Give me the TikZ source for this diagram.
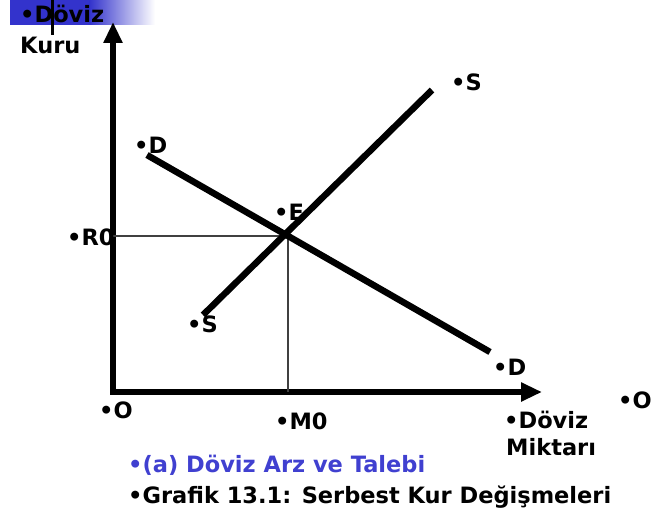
\documentclass[tikz,border=0pt]{standalone}
\usepackage{fontspec}
\setmainfont{DejaVu Sans}
\usetikzlibrary{arrows.meta}
\definecolor{bluetxt}{RGB}{64,64,208}
\definecolor{bluebar}{RGB}{51,51,204}
\tikzset{
  lbl/.style={anchor=west,inner sep=0pt,font=\bfseries\fontsize{22.5}{26}\selectfont},
  axis/.style={line width=5.5pt,-{Triangle[length=21pt,width=18pt]}},
  curve/.style={line width=6.5pt},
  guide/.style={line width=1.3pt,black!75},
}
\begin{document}
\begin{tikzpicture}[x=1pt,y=-1pt]
\useasboundingbox (0,0) rectangle (652,527);
% blue gradient bar
\fill[bluebar] (10,0) rectangle (90,25);
\shade[left color=bluebar,right color=white] (89.5,0) rectangle (155,25);
\draw[line width=3pt] (52,0) -- (52,35);
% axes
\coordinate (orig) at (113,392);
\coordinate (ytip) at (113,22);
\coordinate (xtip) at (542,392);
\draw[axis] (113,394.7) -- (ytip);
\draw[axis] (110.3,392) -- (xtip);
% equilibrium
\coordinate (E) at (288,236);
\coordinate (R0) at (113,236);
\coordinate (M0) at (288,392);
\draw[guide] (R0) -- (E) -- (M0);
% curves
\coordinate (D1) at (147,155);
\coordinate (D2) at (490,352);
\coordinate (S1) at (203,315);
\coordinate (S2) at (432,90);
\draw[curve] (D1) -- (D2);
\draw[curve] (S1) -- (S2);
% labels
\node[lbl] (ld) at (20,14) {•Döviz};
\node[lbl] (lk) at (20,45) {Kuru};
\node[lbl] (dtop) at (134,145) {•D};
\node[lbl] (stop) at (451,82) {•S};
\node[lbl] (le) at (274,212) {•E};
\node[lbl] (lr) at (67,237) {•R0};
\node[lbl] (sbot) at (187,324) {•S};
\node[lbl] (dbot) at (493,367) {•D};
\node[lbl] (lo) at (99,410) {•O};
\node[lbl] (lm) at (275,421) {•M0};
\node[lbl] (lmx1) at (504,420) {•Döviz};
\node[lbl] (lmx2) at (506,447) {Miktarı};
\node[lbl] (lo2) at (618,400) {•O};
\node[lbl,text=bluetxt] (cap1) at (128,465) {•(a) Döviz Arz ve Talebi};
\node[lbl] (cap2) at (128,497) {•Grafik 13.1: Serbest Kur Değişmeleri};
\end{tikzpicture}
\end{document}
